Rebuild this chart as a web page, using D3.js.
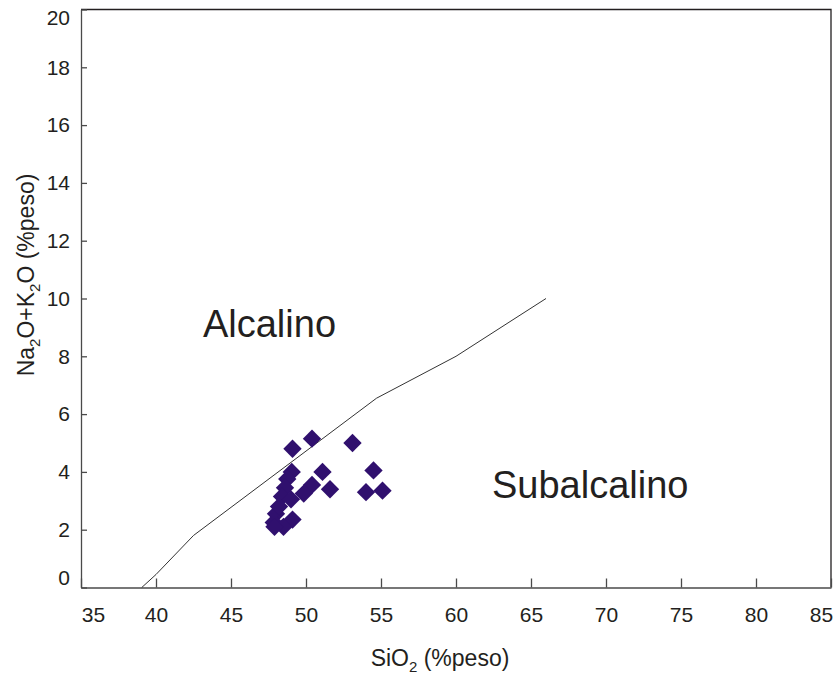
<!DOCTYPE html>
<html>
<head>
<meta charset="utf-8">
<script src="https://cdn.jsdelivr.net/npm/d3@7"></script>
<style>
  body { margin: 0; background: #fff; }
  text { font-family: "Liberation Sans", Arial, sans-serif; fill: #231f20; }
</style>
</head>
<body>
<div class="tas"></div>
<script>
// DATA
const SIO2 = [49.1, 50.4, 53.1, 54.5, 54.0, 55.1, 51.1, 51.6, 49.05, 48.75, 48.6,
              48.4, 50.4, 49.85, 49.0, 48.0, 47.85, 49.1, 48.5, 47.9, 48.2];
const ALK  = [4.8, 5.15, 5.0, 4.05, 3.3, 3.35, 4.0, 3.4, 4.0, 3.75, 3.45,
              3.15, 3.55, 3.25, 3.05, 2.55, 2.25, 2.35, 2.1, 2.1, 2.8];

// boundary alcalino / subalcalino
const LINE_SIO2 = [39.05, 40, 42.5, 54.7, 60, 66];
const LINE_ALK  = [0, 0.45, 1.8, 6.55, 8, 10];

const X_TICKS = [35, 40, 45, 50, 55, 60, 65, 70, 75, 80, 85];
const Y_TICKS = [0, 2, 4, 6, 8, 10, 12, 14, 16, 18, 20];

// GLOBAL CONSTANTS
const FRAME_WIDTH = 838;
const FRAME_HEIGHT = 675;
const MARGINS = {left: 81, right: 7, top: 9.5, bottom: 87.5};
const GRAPH_WIDTH = FRAME_WIDTH - MARGINS.left - MARGINS.right;
const GRAPH_HEIGHT = FRAME_HEIGHT - MARGINS.top - MARGINS.bottom;

const FRAME = d3.select(".tas")
  .append("svg")
    .attr("width", FRAME_WIDTH)
    .attr("height", FRAME_HEIGHT);

const X_SCALE = d3.scaleLinear().domain([35, 85]).range([0, GRAPH_WIDTH]);
const Y_SCALE = d3.scaleLinear().domain([0, 20]).range([GRAPH_HEIGHT, 0]);

const G = FRAME.append("g")
  .attr("transform", "translate(" + MARGINS.left + "," + MARGINS.top + ")");

// frame top + right
G.append("path")
  .attr("d", "M0,0H" + GRAPH_WIDTH + "V" + GRAPH_HEIGHT)
  .attr("fill", "none")
  .attr("stroke", "#231f20")
  .attr("stroke-width", 1.3);

// X AXIS
const xAxis = G.append("g")
  .attr("transform", "translate(0," + GRAPH_HEIGHT + ")")
  .call(d3.axisBottom(X_SCALE).tickValues(X_TICKS).tickSize(-9).tickSizeOuter(0).tickPadding(20));
xAxis.selectAll("text").attr("font-size", "21px");
xAxis.selectAll(".tick").filter((d) => d === 35).select("text").attr("dx", "12");
xAxis.selectAll(".tick").filter((d) => d === 85).select("text").attr("dx", "-10");

// Y AXIS
const yAxis = G.append("g")
  .call(d3.axisLeft(Y_SCALE).tickValues(Y_TICKS).tickSize(-6).tickSizeOuter(0).tickPadding(11));
yAxis.selectAll("text").attr("font-size", "21px");
yAxis.selectAll(".tick").filter((d) => d === 20).select("text").attr("dy", "15");
yAxis.selectAll(".tick").filter((d) => d === 0).select("text").attr("dy", "-3");

FRAME.selectAll(".domain, .tick line")
  .attr("stroke", "#4a4a4a")
  .attr("stroke-width", 1.3);
FRAME.selectAll(".tick text").attr("fill", "#231f20");

// boundary line
const LINE_DATA = LINE_SIO2.map((s, i) => [s, LINE_ALK[i]]);
G.append("path")
  .datum(LINE_DATA)
  .attr("d", d3.line().x((d) => X_SCALE(d[0])).y((d) => Y_SCALE(d[1])))
  .attr("fill", "none")
  .attr("stroke", "#333")
  .attr("stroke-width", 1);

// plot our points
const POINTS = SIO2.map((s, i) => ({sio2: s, alk: ALK[i]}));
G.selectAll(".pt")
  .data(POINTS)
  .enter()
  .append("path")
    .attr("class", "pt")
    .attr("d", d3.symbol(d3.symbolSquare, 168))
    .attr("transform", (d) => "translate(" + X_SCALE(d.sio2) + "," + Y_SCALE(d.alk) + ") rotate(45)")
    .attr("fill", "#30106e");

// field labels
G.append("text")
  .attr("x", X_SCALE(43.13))
  .attr("y", Y_SCALE(8.67))
  .attr("font-size", "38px")
  .text("Alcalino");

G.append("text")
  .attr("x", X_SCALE(62.4))
  .attr("y", Y_SCALE(3.1))
  .attr("font-size", "38px")
  .text("Subalcalino");

// axis titles
const xt = FRAME.append("text")
  .attr("x", 440)
  .attr("y", 666)
  .attr("text-anchor", "middle")
  .attr("font-size", "23px");
xt.append("tspan").text("SiO");
xt.append("tspan").attr("font-size", "15px").attr("dy", "6").text("2");
xt.append("tspan").attr("dy", "-6").text(" (%peso)");

const yt = FRAME.append("text")
  .attr("transform", "translate(34,275) rotate(-90)")
  .attr("text-anchor", "middle")
  .attr("font-size", "23px");
yt.append("tspan").text("Na");
yt.append("tspan").attr("font-size", "15px").attr("dy", "6").text("2");
yt.append("tspan").attr("dy", "-6").text("O+K");
yt.append("tspan").attr("font-size", "15px").attr("dy", "6").text("2");
yt.append("tspan").attr("dy", "-6").text("O (%peso)");
</script>
</body>
</html>
